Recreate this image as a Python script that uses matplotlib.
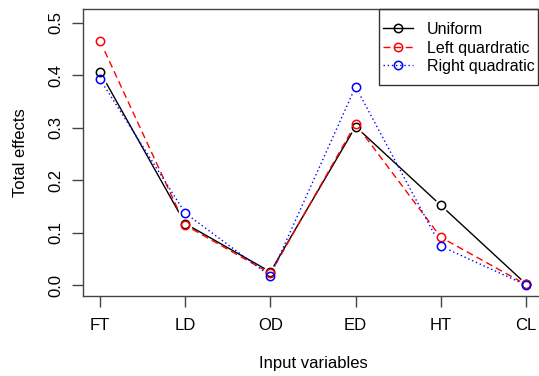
import numpy as np
import matplotlib
matplotlib.use("Agg")
import matplotlib.pyplot as plt
from matplotlib.patches import Rectangle

plt.rcParams['font.family'] = ['Liberation Sans', 'DejaVu Sans']

# data
listVar = ["FT", "LD", "OD", "ED", "HT", "CL"]
listUniform = [0.406, 0.117, 0.025, 0.302, 0.152, 0.002]
listLeftQuad = [0.465, 0.114, 0.022, 0.307, 0.091, 0.001]
listRightQuad = [0.392, 0.137, 0.017, 0.378, 0.074, 0.000]
listYTicks = [0.0, 0.1, 0.2, 0.3, 0.4, 0.5]

listSeries = [
	(listUniform, "Uniform", "black", "-"),
	(listLeftQuad, "Left quardratic", "#FF0000", (0, (5, 3))),
	(listRightQuad, "Right quadratic", "#0000FF", (0, (1, 2))),
]

W, H = 539., 376.
fig = plt.figure(figsize=(W/100, H/100), dpi=100)
ax = fig.add_axes([83/W, 1-295.5/H, (543-83)/W, (295.5-9)/H])

x = np.arange(1, len(listVar)+1)

# lines first, then white discs to make the R type="b" gaps, then open circles
for data, name, color, ls in listSeries:
	ax.plot(x, data, color=color, linestyle=ls, linewidth=1.0, zorder=2)
for data, name, color, ls in listSeries:
	ax.plot(x, data, linestyle="none", marker="o", markersize=10, markerfacecolor="white",
			markeredgecolor="none", zorder=3)
for data, name, color, ls in listSeries:
	ax.plot(x, data, linestyle="none", marker="o", markersize=6, markerfacecolor="none",
			markeredgecolor=color, markeredgewidth=1.1, zorder=4)

ax.set_xlim(0.8, 6.2)
ax.set_ylim(-0.02, 0.526)
ax.set_xticks(x)
ax.set_xticklabels(listVar)
ax.set_yticks(listYTicks)
ax.set_yticklabels(["%.1f" % v for v in listYTicks], rotation=90, va="center")

for s in ax.spines.values():
	s.set_color("#444444")
	s.set_linewidth(1.0)
ax.tick_params(axis="both", colors="#444444", length=8, width=1.0, labelsize=12,
			   labelcolor="black")
ax.tick_params(axis="x", pad=8)
ax.tick_params(axis="y", pad=6)

ax.set_xlabel("Input variables", size=12, labelpad=17)
ax.set_ylabel("Total effects", size=12, labelpad=15)

# legend handles: line + open circle
listHandles = []
for data, name, color, ls in listSeries:
	h, = ax.plot([], [], color=color, linestyle=ls, linewidth=1.0, marker="o", markersize=6,
				 markerfacecolor="none", markeredgecolor=color, markeredgewidth=1.1)
	listHandles.append(h)
leg = fig.legend(listHandles, [s[1] for s in listSeries], loc="center left",
				bbox_to_anchor=(383/W, 1-48/H), bbox_transform=fig.transFigure,
				fontsize=11.5, frameon=False, borderaxespad=0, borderpad=0,
				handlelength=1.9, handletextpad=0.85, labelspacing=0.22)

# legend box drawn by hand (R style: small side padding, larger top/bottom)
fig.patches.append(Rectangle((379/W, 1-85/H), (538-379)/W, (85-9)/H, transform=fig.transFigure,
							 fill=False, edgecolor="#333333", linewidth=1.0, zorder=10))

plt.savefig("out.png", dpi=100)
